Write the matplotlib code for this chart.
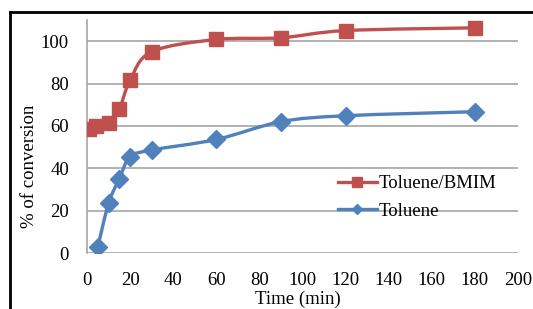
import numpy as np
import matplotlib.pyplot as plt
from matplotlib.path import Path
from matplotlib.patches import PathPatch
from matplotlib.lines import Line2D

plt.rcParams['font.family'] = ['Liberation Serif', 'DejaVu Serif']

# data
t_bmim = [1, 4, 10, 15, 20, 30, 60, 90, 120, 180]
conv_bmim = [58.5, 60, 61.5, 68, 81.5, 95, 100.8, 101.6, 105, 106.3]
t_tol = [5, 10, 15, 20, 30, 60, 90, 120, 180]
conv_tol = [2.7, 23.4, 35, 45.4, 48.6, 53.6, 62, 64.8, 66.7]

red = '#C0504D'
blue = '#4F81BD'
fs = 13.5


def smooth_path(ax, x, y):
    # excel style smoothed line: cubic bezier through the points,
    # tangents computed in display space
    pts = ax.transData.transform(np.column_stack([x, y]))
    n = len(pts)
    verts = [pts[0]]
    codes = [Path.MOVETO]
    for i in range(n - 1):
        p0 = pts[max(i - 1, 0)]
        p1 = pts[i]
        p2 = pts[i + 1]
        p3 = pts[min(i + 2, n - 1)]
        c1 = p1 + (p2 - p0) / 6.0
        c2 = p2 - (p3 - p1) / 6.0
        verts += [c1, c2, p2]
        codes += [Path.CURVE4] * 3
    verts = ax.transData.inverted().transform(np.array(verts))
    return Path(verts, codes)


fig = plt.figure(figsize=(5.33, 3.09), dpi=100)
ax = fig.add_axes([0.1632, 0.1812, 0.8087, 0.7541])
ax.set_xlim(0, 200)
ax.set_ylim(0, 110)
ax.set_xticks(np.arange(0, 201, 20))
ax.set_yticks(np.arange(0, 101, 20))
ax.grid(axis='y', color='#a6a6a6', linewidth=1.2)
ax.set_axisbelow(True)
for s in ['top', 'right', 'bottom']:
    ax.spines[s].set_visible(False)
ax.spines['left'].set_color('#a6a6a6')
ax.spines['left'].set_linewidth(1.2)
ax.tick_params(axis='x', length=0, labelsize=fs, pad=14)
ax.tick_params(axis='y', length=0, labelsize=fs, pad=13)

for x, y, c in [(t_bmim, conv_bmim, red), (t_tol, conv_tol, blue)]:
    ax.add_patch(PathPatch(smooth_path(ax, x, y), facecolor='none',
                           edgecolor=c, linewidth=2.4, zorder=2))

ax.plot(t_bmim, conv_bmim, linestyle='none', marker='s', markersize=9.5,
        color=red, zorder=3)
ax.plot(t_tol, conv_tol, linestyle='none', marker='D', markersize=9,
        color=blue, zorder=3)

handles = [Line2D([], [], color=red, linewidth=2.4, marker='s', markersize=7),
           Line2D([], [], color=blue, linewidth=2.4, marker='D', markersize=5)]
ax.legend(handles, ['Toluene/BMIM', 'Toluene'], loc='upper left',
          bbox_to_anchor=(0.56, 0.375), frameon=False, fontsize=fs,
          handlelength=2.1, handletextpad=0.1, labelspacing=0.55,
          borderpad=0)

ax.set_xlabel('Time (min)', fontsize=fs)
ax.set_ylabel('% of conversion', fontsize=fs)
ax.yaxis.set_label_coords(-0.113, 0.37)
ax.xaxis.set_label_coords(0.49, -0.16)

# outer frame of the original picture (only top and left edges visible)
fig.add_artist(Line2D([10 / 533, 10 / 533], [0, 1 - 12 / 309],
                      color='black', linewidth=2, transform=fig.transFigure))
fig.add_artist(Line2D([10 / 533, 1], [1 - 12 / 309, 1 - 12 / 309],
                      color='black', linewidth=2, transform=fig.transFigure))

fig.savefig('out.png', dpi=100)
